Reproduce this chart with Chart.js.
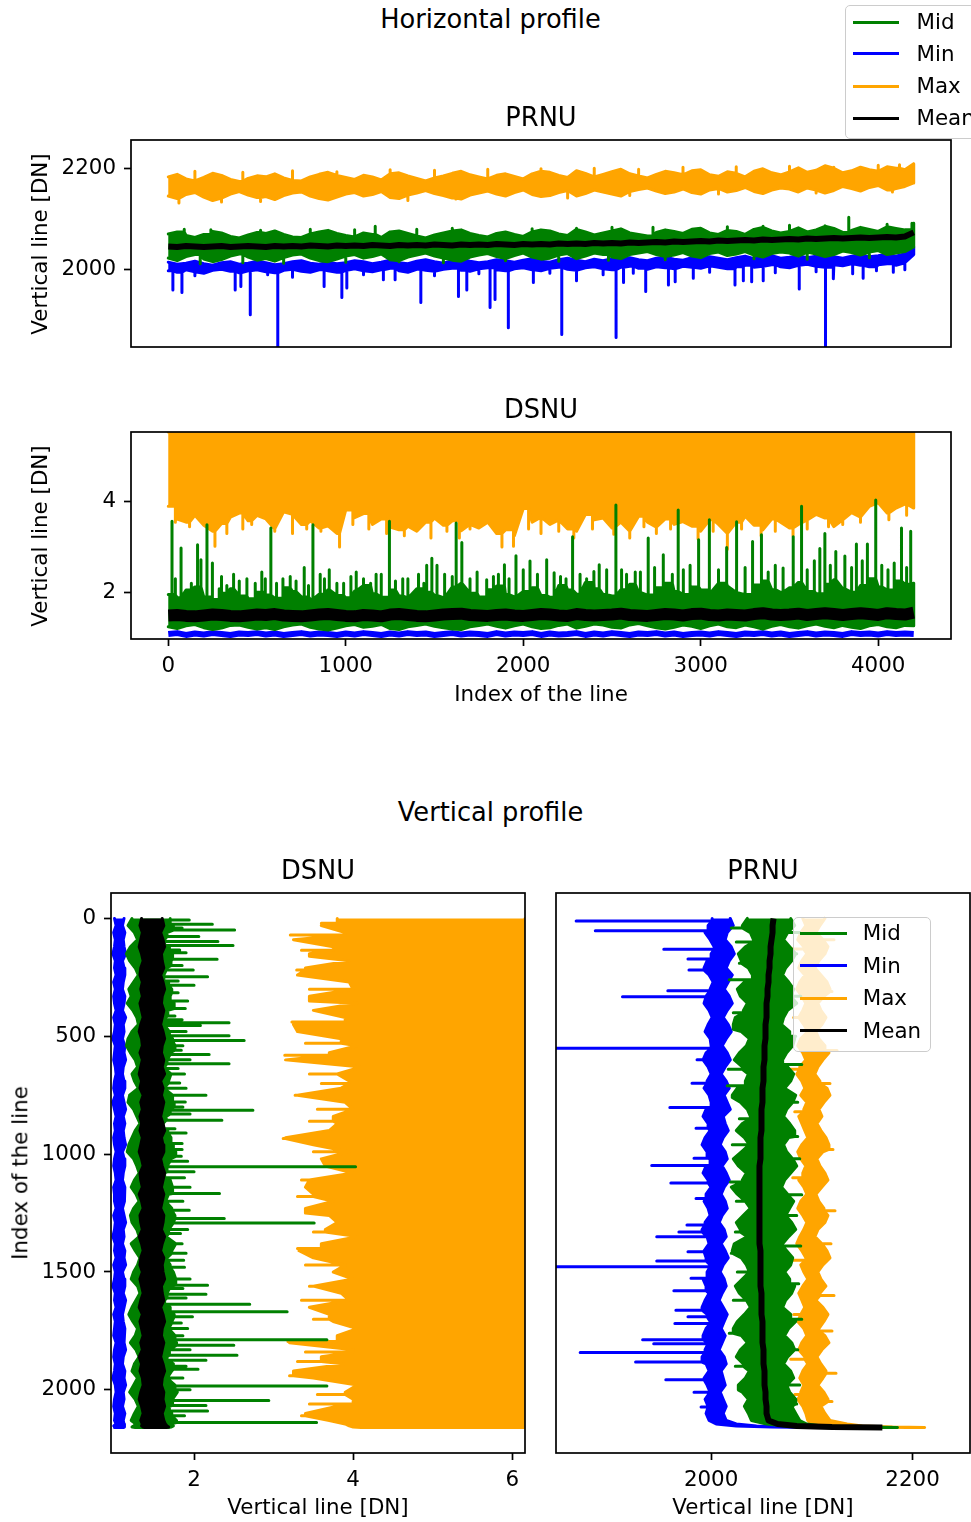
<!DOCTYPE html>
<html>
<head>
<meta charset="utf-8">
<title>Horizontal and vertical profiles</title>
<script src="https://cdn.jsdelivr.net/npm/chart.js@4.4.1/dist/chart.umd.min.js"></script>
<style>
  html, body { margin: 0; padding: 0; background: #fff; }
  body { width: 971px; height: 1522px; position: relative; overflow: hidden;
         font-family: "DejaVu Sans", sans-serif; color: #000; }
  canvas { position: absolute; }
  .t { position: absolute; white-space: nowrap; line-height: 1; transform: translate(-50%, -50%); z-index: 5; }
  .rot { transform: translate(-50%, -50%) rotate(-90deg); }
  .legend { position: absolute; box-sizing: border-box; background: rgba(255,255,255,0.8);
            border: 1.5px solid #cccccc; border-radius: 5px; z-index: 6; }
  .key { position: absolute; height: 3px; margin-top: -1.5px; }
  .lab { position: absolute; font-size: 21.4px; line-height: 1; transform: translateY(-50%); white-space: nowrap; }
</style>
</head>
<body>

<div class="t" style="left:490.5px;top:19.5px;font-size:25.7px">Horizontal profile</div>
<div class="t" style="left:541px;top:117.6px;font-size:25.7px">PRNU</div>
<div class="t" style="left:541px;top:410px;font-size:25.7px">DSNU</div>
<div class="t" style="left:541px;top:694px;font-size:21.4px">Index of the line</div>
<div class="t rot" style="left:39.5px;top:243.5px;font-size:21.4px">Vertical line [DN]</div>
<div class="t rot" style="left:39.5px;top:535.5px;font-size:21.4px">Vertical line [DN]</div>

<div class="t" style="left:490.5px;top:813px;font-size:25.7px">Vertical profile</div>
<div class="t" style="left:318px;top:871px;font-size:25.7px">DSNU</div>
<div class="t" style="left:763px;top:871px;font-size:25.7px">PRNU</div>
<div class="t" style="left:318px;top:1507px;font-size:21.4px">Vertical line [DN]</div>
<div class="t" style="left:763px;top:1507px;font-size:21.4px">Vertical line [DN]</div>
<div class="t rot" style="left:20px;top:1173px;font-size:21.4px">Index of the line</div>

<canvas id="hPrnu" width="971" height="250" style="left:0;top:110px"></canvas>
<canvas id="hDsnu" width="971" height="275" style="left:0;top:412px"></canvas>
<canvas id="vDsnu" width="545" height="630" style="left:0;top:873px"></canvas>
<canvas id="vPrnu" width="431" height="630" style="left:540px;top:873px"></canvas>

<div class="legend" style="left:845px;top:5px;width:140px;height:134px">
  <div class="key" style="left:6.5px;top:16.2px;width:46px;background:#008000"></div><div class="lab" style="left:70.5px;top:16.2px">Mid</div>
  <div class="key" style="left:6.5px;top:47.5px;width:46px;background:#0000ff"></div><div class="lab" style="left:70.5px;top:47.5px">Min</div>
  <div class="key" style="left:6.5px;top:80.2px;width:46px;background:#ffa500"></div><div class="lab" style="left:70.5px;top:80.2px">Max</div>
  <div class="key" style="left:6.5px;top:112.2px;width:46px;background:#000000"></div><div class="lab" style="left:70.5px;top:112.2px">Mean</div>
</div>

<div class="legend" style="left:793px;top:917px;width:138px;height:135px">
  <div class="key" style="left:5.5px;top:15px;width:47px;background:#008000"></div><div class="lab" style="left:68.8px;top:15px">Mid</div>
  <div class="key" style="left:5.5px;top:47.5px;width:47px;background:#0000ff"></div><div class="lab" style="left:68.8px;top:47.5px">Min</div>
  <div class="key" style="left:5.5px;top:80px;width:47px;background:#ffa500"></div><div class="lab" style="left:68.8px;top:80px">Max</div>
  <div class="key" style="left:5.5px;top:112.5px;width:47px;background:#000000"></div><div class="lab" style="left:68.8px;top:112.5px">Mean</div>
</div>

<script>
// ---------- sampled line indices ----------
// horizontal profile: one sample every 50 lines, 0 .. 4200
const hLines = [];
for (let i = 0; i <= 4200; i += 50) hLines.push(i);
// vertical profile: one sample every 30 lines, then the last few lines near the bottom edge
const vLines = [];
for (let i = 0; i <= 2130; i += 30) vLines.push(i);
vLines.push(2145, 2153, 2158, 2160);

// ---------- axis limits and ticks ----------
const hLineMin = -210, hLineMax = 4410;
const hLineTicks = [0, 1000, 2000, 3000, 4000];
const hPrnuYMin = 1847, hPrnuYMax = 2257;
const hPrnuYTicks = [2000, 2200];
const hDsnuYMin = 0.97, hDsnuYMax = 5.54;
const hDsnuYTicks = [2, 4];
const vLineMin = -108, vLineMax = 2268;
const vLineTicks = [0, 500, 1000, 1500, 2000];
const vDsnuXMin = 0.956, vDsnuXMax = 6.16;
const vDsnuXTicks = [2, 4, 6];
const vPrnuXMin = 1846, vPrnuXMax = 2257;
const vPrnuXTicks = [2000, 2200];

// ---------- horizontal profile, PRNU [DN] ----------
// upper / lower envelope of each noisy curve, plus isolated spikes [line, value]
const hPrnuMaxHi = [
  2184, 2189, 2180, 2176, 2183, 2191, 2187, 2179, 2175, 2181,
  2186, 2184, 2190, 2182, 2177, 2176, 2184, 2189, 2193, 2187,
  2183, 2179, 2187, 2184, 2178, 2190, 2192, 2186, 2181, 2176,
  2182, 2186, 2191, 2195, 2188, 2184, 2180, 2187, 2190, 2185,
  2180, 2190, 2195, 2193, 2187, 2183, 2196, 2191, 2184, 2189,
  2194, 2199, 2190, 2186, 2182, 2189, 2195, 2192, 2188, 2196,
  2198, 2188, 2185, 2194, 2191, 2184, 2195, 2200, 2192, 2188,
  2194, 2202, 2193, 2197, 2206, 2201, 2192, 2196, 2203, 2198,
  2195, 2204, 2201, 2198, 2210];
const hPrnuMaxHiSpikes = [
  [150, 2195], [420, 2193], [700, 2196], [950, 2194], [1250, 2198], [1500, 2197], [1800, 2199],
  [2100, 2200], [2400, 2201], [2650, 2199], [2900, 2203], [3200, 2204], [3500, 2205], [3750, 2203],
  [4000, 2207], [4120, 2208]];
const hPrnuMaxLo = [
  2146, 2141, 2149, 2153, 2144, 2137, 2142, 2150, 2155, 2148,
  2143, 2145, 2139, 2147, 2152, 2154, 2146, 2141, 2138, 2144,
  2150, 2153, 2146, 2149, 2155, 2143, 2141, 2148, 2152, 2157,
  2151, 2147, 2142, 2140, 2148, 2152, 2156, 2150, 2146, 2153,
  2158, 2149, 2145, 2147, 2153, 2157, 2146, 2151, 2158, 2154,
  2150, 2146, 2155, 2159, 2162, 2156, 2151, 2154, 2160, 2153,
  2150, 2158, 2161, 2154, 2157, 2163, 2155, 2151, 2158, 2162,
  2160, 2154, 2162, 2158, 2152, 2157, 2165, 2161, 2156, 2163,
  2167, 2158, 2161, 2165, 2172];
const hPrnuMaxLoSpikes = [
  [60, 2132], [300, 2134], [520, 2135], [900, 2138], [1350, 2137], [1620, 2140],
  [2250, 2142], [2600, 2147], [3100, 2150], [3650, 2152], [4080, 2154]];
const hPrnuMidHi = [
  2071, 2075, 2068, 2064, 2070, 2076, 2073, 2066, 2063, 2069,
  2074, 2072, 2077, 2070, 2065, 2064, 2071, 2075, 2078, 2072,
  2068, 2065, 2073, 2070, 2064, 2075, 2077, 2072, 2067, 2063,
  2069, 2073, 2077, 2079, 2072, 2068, 2065, 2072, 2075, 2070,
  2066, 2075, 2079, 2077, 2071, 2068, 2080, 2075, 2069, 2073,
  2077, 2081, 2073, 2070, 2067, 2074, 2079, 2076, 2072, 2080,
  2082, 2073, 2070, 2078, 2076, 2070, 2080, 2084, 2077, 2073,
  2076, 2083, 2075, 2079, 2086, 2082, 2074, 2078, 2084, 2080,
  2076, 2085, 2082, 2079, 2092];
const hPrnuMidHiSpikes = [
  [90, 2080], [240, 2079], [520, 2078], [800, 2080], [1050, 2079], [1166, 2086], [1400, 2080],
  [1600, 2082], [2050, 2081], [2300, 2082], [2500, 2084], [2731, 2084], [3000, 2082], [3150, 2085],
  [3351, 2086], [3500, 2088], [3700, 2087], [3834, 2104], [4050, 2090], [4190, 2092]];
const hPrnuMidLo = [
  2023, 2018, 2026, 2030, 2021, 2016, 2020, 2027, 2031, 2025,
  2019, 2022, 2017, 2024, 2029, 2031, 2023, 2018, 2016, 2021,
  2027, 2030, 2023, 2026, 2031, 2020, 2018, 2025, 2029, 2033,
  2027, 2023, 2019, 2017, 2025, 2029, 2032, 2026, 2022, 2028,
  2033, 2025, 2021, 2023, 2029, 2032, 2022, 2027, 2033, 2030,
  2025, 2022, 2030, 2033, 2036, 2030, 2026, 2029, 2034, 2027,
  2024, 2032, 2035, 2028, 2031, 2036, 2029, 2025, 2032, 2035,
  2033, 2027, 2035, 2031, 2026, 2030, 2037, 2034, 2029, 2035,
  2038, 2030, 2033, 2036, 2045];
const hPrnuMidLoSpikes = [
  [180, 2012], [420, 2014], [650, 2013], [1000, 2015], [1300, 2016], [1550, 2014], [1900, 2018],
  [2200, 2017], [2480, 2019], [2800, 2020], [3300, 2022], [3600, 2021], [3950, 2024]];
const hPrnuMinHi = [
  2015, 2011, 2013, 2017, 2012, 2009, 2014, 2016, 2011, 2013,
  2017, 2014, 2010, 2012, 2016, 2018, 2013, 2011, 2015, 2012,
  2014, 2018, 2016, 2012, 2015, 2019, 2014, 2012, 2017, 2020,
  2016, 2013, 2018, 2021, 2017, 2014, 2016, 2020, 2018, 2015,
  2019, 2022, 2017, 2015, 2020, 2023, 2019, 2016, 2021, 2018,
  2022, 2019, 2024, 2020, 2018, 2023, 2025, 2021, 2019, 2024,
  2021, 2026, 2023, 2020, 2024, 2027, 2022, 2025, 2028, 2023,
  2025, 2028, 2024, 2027, 2030, 2026, 2023, 2027, 2029, 2026,
  2028, 2031, 2027, 2032, 2045];
const hPrnuMinLo = [
  1998, 1995, 2000, 1996, 1993, 1999, 2001, 1997, 1994, 1998,
  2000, 1996, 1994, 1999, 2001, 1997, 1995, 2000, 1998, 1995,
  1999, 2002, 1998, 1996, 2000, 2003, 1998, 1995, 2001, 1999,
  1997, 2001, 2003, 1999, 1997, 2002, 2004, 2000, 1998, 2002,
  2004, 2000, 1998, 2003, 2005, 2001, 1999, 2004, 2006, 2002,
  2000, 2005, 2007, 2003, 2001, 2006, 2004, 2002, 2007, 2005,
  2003, 2008, 2005, 2002, 2006, 2009, 2005, 2007, 2010, 2006,
  2004, 2009, 2011, 2007, 2005, 2010, 2008, 2012, 2009, 2006,
  2010, 2012, 2009, 2014, 2030];
const hPrnuMinSpikes = [
  [26, 1960], [77, 1955], [150, 1988], [377, 1960], [409, 1967], [462, 1911], [560, 1990],
  [617, 1835], [700, 1985], [878, 1967], [978, 1945], [1006, 1964], [1100, 1990], [1212, 1980],
  [1278, 1980], [1423, 1935], [1500, 1988], [1635, 1947], [1682, 1960], [1750, 1992], [1813, 1925],
  [1841, 1941], [1916, 1885], [2057, 1975], [2150, 1993], [2217, 1872], [2300, 1978], [2450, 1990],
  [2523, 1866], [2565, 1975], [2620, 1993], [2690, 1957], [2818, 1970], [2856, 1976], [2958, 1983],
  [3050, 1995], [3193, 1970], [3240, 1978], [3287, 1976], [3352, 1978], [3420, 1994], [3555, 1962],
  [3650, 1996], [3703, 1835], [3747, 1982], [3856, 1992], [3915, 1983], [3990, 1998], [4085, 1995],
  [4150, 2000]];
const hPrnuMean = [
  2046, 2045, 2047, 2046, 2045, 2046, 2047, 2045, 2046, 2047,
  2046, 2045, 2047, 2046, 2047, 2046, 2048, 2047, 2046, 2048,
  2047, 2048, 2047, 2049, 2048, 2047, 2049, 2048, 2049, 2048,
  2050, 2049, 2048, 2050, 2049, 2050, 2049, 2051, 2050, 2049,
  2051, 2050, 2051, 2050, 2052, 2051, 2052, 2051, 2053, 2052,
  2053, 2052, 2054, 2053, 2054, 2055, 2054, 2056, 2055, 2056,
  2057, 2056, 2058, 2057, 2058, 2059, 2058, 2060, 2059, 2060,
  2061, 2060, 2062, 2061, 2062, 2063, 2062, 2063, 2064, 2063,
  2064, 2065, 2064, 2066, 2074];

// ---------- horizontal profile, DSNU [DN] ----------
const hDsnuMaxLo = [
  3.9, 3.62, 3.55, 3.7, 3.48, 3.35, 3.52, 3.66, 3.75, 3.58,
  3.7, 3.62, 3.4, 3.78, 3.72, 3.5, 3.58, 3.42, 3.47, 3.3,
  3.82, 3.65, 3.74, 3.5, 3.62, 3.44, 3.38, 3.46, 3.35, 3.55,
  3.64, 3.48, 3.58, 3.36, 3.5, 3.42, 3.55, 3.3, 3.38, 3.25,
  3.85, 3.55, 3.66, 3.5, 3.6, 3.4, 3.35, 3.72, 3.6, 3.64,
  3.42, 3.55, 3.35, 3.68, 3.55, 3.44, 3.62, 3.5, 3.56, 3.46,
  3.35, 3.6, 3.5, 3.3, 3.55, 3.68, 3.48, 3.38, 3.62, 3.55,
  3.42, 3.5, 3.6, 3.72, 3.64, 3.45, 3.6, 3.76, 3.66, 3.9,
  3.98, 3.75, 3.86, 3.95, 3.86];
const hDsnuMaxSpikes = [
  [40, 3.55], [120, 3.45], [263, 3.02], [330, 3.3], [420, 3.4], [470, 3.5], [600, 3.35],
  [700, 3.3], [780, 3.4], [860, 3.35], [965, 3.0], [1040, 3.5], [1130, 3.4], [1230, 3.3],
  [1330, 3.25], [1480, 3.2], [1570, 3.35], [1640, 3.2], [1700, 3.4], [1880, 3.0], [1945, 3.02],
  [2030, 3.4], [2100, 3.3], [2200, 3.35], [2285, 3.2], [2390, 3.4], [2510, 3.28], [2600, 3.2],
  [2680, 3.45], [2750, 3.3], [2830, 3.4], [2985, 3.18], [3070, 3.35], [3150, 2.95], [3230, 3.4],
  [3340, 3.25], [3420, 3.35], [3520, 3.25], [3600, 3.4], [3720, 3.45], [3800, 3.5], [3900, 3.55],
  [4060, 3.6], [4160, 3.7]];
const hDsnuMidHi = [
  1.95, 1.88, 2.05, 2.12, 1.9, 1.84, 1.98, 2.08, 1.92, 1.86,
  2.0, 1.94, 1.87, 2.1, 2.02, 1.9, 1.85, 1.96, 2.06, 1.93,
  1.88, 2.03, 2.15, 1.97, 1.89, 2.05, 1.92, 1.87, 2.08, 2.0,
  1.93, 1.88, 2.12, 2.2, 1.98, 1.9, 2.06, 2.14, 1.95, 1.9,
  2.02, 2.1, 1.93, 1.89, 2.15, 2.05, 1.96, 2.22, 2.08, 1.95,
  1.92, 2.06, 2.18, 2.0, 1.94, 2.1, 2.2, 2.02, 1.95, 2.12,
  2.05, 1.96, 2.2, 2.14, 2.0, 1.95, 2.16, 2.25, 2.06, 2.0,
  2.1, 2.22, 2.02, 1.97, 2.18, 2.28, 2.08, 2.0, 2.15, 2.3,
  2.12, 2.05, 2.25, 2.18, 2.2];
const hDsnuMidLo = [
  1.24, 1.2, 1.26, 1.29, 1.22, 1.18, 1.21, 1.27, 1.28, 1.23,
  1.19, 1.22, 1.18, 1.24, 1.28, 1.3, 1.23, 1.19, 1.17, 1.21,
  1.26, 1.29, 1.23, 1.25, 1.29, 1.2, 1.18, 1.24, 1.27, 1.3,
  1.25, 1.22, 1.19, 1.18, 1.24, 1.27, 1.3, 1.25, 1.21, 1.26,
  1.3, 1.24, 1.2, 1.22, 1.27, 1.3, 1.21, 1.25, 1.3, 1.28,
  1.23, 1.21, 1.28, 1.31, 1.26, 1.22, 1.19, 1.23, 1.28, 1.25,
  1.2, 1.26, 1.3, 1.24, 1.22, 1.28, 1.24, 1.19, 1.25, 1.29,
  1.24, 1.21, 1.26, 1.3, 1.25, 1.22, 1.27, 1.23, 1.2, 1.26,
  1.29, 1.24, 1.22, 1.27, 1.26];
const hDsnuMidSpikes = [
  [21, 3.57], [40, 2.3], [72, 2.98], [100, 2.05], [130, 2.2], [165, 3.05], [184, 2.72],
  [218, 3.49], [248, 2.65], [287, 2.08], [300, 2.35], [330, 2.15], [368, 2.4], [400, 2.25],
  [443, 2.3], [490, 2.2], [527, 2.45], [545, 2.3], [578, 3.42], [610, 2.2], [646, 2.3],
  [687, 2.35], [720, 2.25], [766, 2.55], [790, 2.15], [815, 3.49], [856, 2.4], [880, 2.3],
  [907, 2.5], [950, 2.2], [988, 2.2], [1029, 2.35], [1059, 2.45], [1100, 2.3], [1140, 2.2],
  [1171, 2.4], [1200, 2.4], [1246, 3.57], [1280, 2.25], [1321, 2.3], [1350, 2.3], [1410, 2.4],
  [1440, 2.2], [1456, 2.6], [1485, 2.75], [1514, 2.6], [1557, 2.4], [1600, 2.35], [1622, 3.53],
  [1654, 3.1], [1700, 2.3], [1740, 2.45], [1794, 2.28], [1832, 2.35], [1860, 2.4], [1894, 2.61],
  [1920, 2.3], [1959, 2.81], [2000, 2.5], [2038, 2.69], [2080, 2.4], [2132, 2.72], [2174, 2.43],
  [2210, 2.35], [2241, 2.3], [2278, 3.23], [2320, 2.4], [2357, 2.3], [2398, 2.46], [2428, 2.61],
  [2470, 2.5], [2522, 3.93], [2554, 2.5], [2582, 2.4], [2631, 2.45], [2660, 2.45], [2704, 3.2],
  [2740, 2.55], [2789, 2.83], [2840, 2.4], [2873, 3.82], [2902, 2.5], [2940, 2.6], [2988, 3.16],
  [3048, 3.6], [3100, 2.5], [3146, 2.99], [3202, 3.56], [3250, 2.55], [3292, 3.12], [3342, 3.27],
  [3380, 2.45], [3420, 2.6], [3464, 2.54], [3521, 3.23], [3568, 3.9], [3600, 2.5], [3640, 2.7],
  [3671, 2.97], [3699, 3.3], [3730, 2.6], [3761, 2.9], [3812, 2.8], [3850, 2.55], [3877, 3.07],
  [3910, 2.7], [3939, 3.07], [3986, 4.04], [4020, 2.6], [4055, 2.5], [4090, 2.65], [4131, 3.42],
  [4160, 2.55], [4183, 3.35]];
const hDsnuMin = [
  1.08, 1.1, 1.06, 1.09, 1.07, 1.1, 1.08, 1.06, 1.09, 1.08,
  1.1, 1.07, 1.09, 1.06, 1.08, 1.1, 1.07, 1.09, 1.08, 1.06,
  1.09, 1.07, 1.1, 1.08, 1.06, 1.09, 1.07, 1.1, 1.08, 1.09,
  1.06, 1.08, 1.1, 1.07, 1.09, 1.08, 1.06, 1.1, 1.07, 1.09,
  1.08, 1.1, 1.06, 1.09, 1.07, 1.08, 1.1, 1.06, 1.09, 1.07,
  1.1, 1.08, 1.06, 1.09, 1.08, 1.1, 1.07, 1.09, 1.06, 1.08,
  1.09, 1.07, 1.1, 1.08, 1.06, 1.09, 1.08, 1.1, 1.07, 1.09,
  1.06, 1.08, 1.1, 1.07, 1.09, 1.08, 1.06, 1.1, 1.08, 1.09,
  1.07, 1.1, 1.08, 1.09, 1.08];
const hDsnuMean = [
  1.49, 1.5, 1.48, 1.47, 1.49, 1.51, 1.5, 1.48, 1.47, 1.49,
  1.51, 1.5, 1.52, 1.49, 1.48, 1.47, 1.49, 1.51, 1.52, 1.5,
  1.48, 1.47, 1.5, 1.49, 1.47, 1.51, 1.52, 1.5, 1.48, 1.47,
  1.49, 1.51, 1.52, 1.53, 1.5, 1.49, 1.48, 1.5, 1.51, 1.49,
  1.48, 1.5, 1.52, 1.51, 1.49, 1.48, 1.52, 1.5, 1.49, 1.5,
  1.51, 1.53, 1.5, 1.49, 1.48, 1.5, 1.52, 1.51, 1.49, 1.52,
  1.53, 1.5, 1.49, 1.51, 1.5, 1.49, 1.52, 1.54, 1.51, 1.5,
  1.51, 1.53, 1.5, 1.52, 1.54, 1.52, 1.5, 1.52, 1.54, 1.52,
  1.5, 1.54, 1.52, 1.51, 1.55];

// ---------- vertical profile, DSNU [DN] ----------
const vDsnuMaxLo = [
  3.8, 3.6, 3.9, 3.25, 3.75, 3.45, 3.95, 3.4, 3.3, 3.95,
  4.0, 3.45, 4.05, 3.5, 3.9, 3.25, 3.3, 3.85, 4.05, 3.7,
  3.15, 4.1, 3.8, 3.95, 3.85, 3.3, 3.9, 4.0, 3.75, 3.8,
  3.7, 3.15, 3.5, 3.95, 3.6, 3.65, 4.0, 3.45, 3.4, 3.5,
  3.75, 3.4, 3.7, 3.8, 3.65, 4.05, 3.6, 3.32, 3.5, 3.9,
  3.75, 4.0, 3.5, 3.85, 3.95, 3.45, 3.7, 3.75, 4.05, 3.8,
  3.2, 4.0, 3.6, 3.9, 3.25, 3.5, 4.05, 3.9, 4.0, 3.8,
  3.4, 3.7, 3.9, 3.95, 4.0, 4.1];
const vDsnuMaxSpikes = [
  [20, 3.6], [70, 3.21], [135, 3.35], [160, 3.55], [219, 3.29], [300, 3.45], [350, 3.5],
  [439, 3.23], [480, 3.6], [530, 3.4], [580, 3.14], [660, 3.45], [700, 3.6], [750, 3.27],
  [810, 3.55], [860, 3.45], [934, 3.12], [990, 3.5], [1110, 3.35], [1180, 3.3], [1250, 3.45],
  [1330, 3.5], [1400, 3.3], [1470, 3.4], [1560, 3.45], [1620, 3.35], [1700, 3.5], [1795, 3.18],
  [1840, 3.4], [1880, 3.3], [1940, 3.2], [2020, 3.55], [2060, 3.45], [2110, 3.35]];
const vDsnuMidHi = [
  1.7, 1.74, 1.66, 1.63, 1.69, 1.73, 1.71, 1.65, 1.62, 1.68,
  1.72, 1.7, 1.75, 1.67, 1.64, 1.63, 1.69, 1.73, 1.76, 1.7,
  1.66, 1.63, 1.71, 1.68, 1.62, 1.73, 1.75, 1.7, 1.65, 1.61,
  1.67, 1.71, 1.74, 1.77, 1.7, 1.66, 1.63, 1.7, 1.73, 1.68,
  1.64, 1.72, 1.76, 1.74, 1.68, 1.65, 1.77, 1.72, 1.66, 1.7,
  1.74, 1.77, 1.69, 1.66, 1.63, 1.7, 1.75, 1.72, 1.68, 1.76,
  1.78, 1.69, 1.66, 1.74, 1.72, 1.66, 1.76, 1.79, 1.73, 1.69,
  1.72, 1.78, 1.7, 1.74, 1.71, 1.68];
const vDsnuMidLo = [
  1.22, 1.17, 1.25, 1.29, 1.2, 1.15, 1.19, 1.26, 1.3, 1.24,
  1.18, 1.21, 1.16, 1.23, 1.28, 1.3, 1.22, 1.17, 1.15, 1.2,
  1.26, 1.29, 1.22, 1.25, 1.3, 1.19, 1.17, 1.24, 1.28, 1.32,
  1.26, 1.22, 1.18, 1.16, 1.24, 1.28, 1.31, 1.25, 1.21, 1.27,
  1.31, 1.24, 1.2, 1.22, 1.28, 1.31, 1.21, 1.26, 1.32, 1.29,
  1.24, 1.21, 1.29, 1.32, 1.27, 1.22, 1.18, 1.23, 1.29, 1.26,
  1.2, 1.27, 1.31, 1.25, 1.22, 1.29, 1.24, 1.19, 1.26, 1.3,
  1.25, 1.21, 1.27, 1.24, 1.22, 1.26];
const vDsnuMidSpikes = [
  [7, 1.94], [25, 2.23], [40, 1.85], [49, 2.51], [77, 2.06], [98, 2.3], [115, 2.49], [134, 1.82],
  [145, 1.9], [173, 2.29], [200, 1.85], [219, 1.99], [247, 2.17], [265, 1.8], [283, 2.0], [315, 1.8],
  [350, 1.92], [382, 1.89], [414, 1.76], [430, 1.85], [443, 2.44], [454, 2.08], [480, 1.9],
  [498, 2.44], [518, 2.63], [540, 1.86], [559, 1.84], [577, 2.19], [600, 1.95], [616, 2.44],
  [637, 1.8], [660, 1.88], [698, 1.82], [720, 1.9], [750, 2.15], [779, 1.89], [800, 1.86],
  [814, 2.74], [830, 1.95], [856, 2.35], [892, 1.76], [910, 1.9], [955, 1.85], [980, 1.85],
  [1009, 1.84], [1030, 1.92], [1054, 4.03], [1075, 2.0], [1100, 1.88], [1140, 1.95], [1167, 2.32],
  [1200, 1.86], [1238, 1.94], [1273, 2.38], [1292, 3.51], [1320, 1.92], [1337, 1.83], [1380, 1.85],
  [1420, 1.9], [1450, 1.87], [1480, 1.88], [1530, 1.95], [1556, 2.17], [1570, 1.86], [1594, 2.15],
  [1610, 1.9], [1637, 2.7], [1669, 3.17], [1690, 1.98], [1716, 1.84], [1740, 1.92], [1770, 1.86],
  [1787, 3.67], [1811, 2.5], [1830, 1.95], [1853, 2.54], [1875, 2.15], [1900, 1.9], [1913, 2.05],
  [1950, 1.86], [1984, 3.67], [2000, 1.95], [2045, 2.94], [2066, 2.15], [2090, 2.17], [2110, 1.88],
  [2139, 3.54]];
const vDsnuMinHi = [
  1.12, 1.1, 1.13, 1.11, 1.12, 1.14, 1.1, 1.12, 1.13, 1.11,
  1.1, 1.13, 1.12, 1.1, 1.14, 1.11, 1.12, 1.1, 1.13, 1.12,
  1.14, 1.11, 1.1, 1.12, 1.13, 1.1, 1.12, 1.14, 1.11, 1.13,
  1.11, 1.12, 1.14, 1.1, 1.12, 1.13, 1.11, 1.1, 1.13, 1.12,
  1.13, 1.1, 1.12, 1.14, 1.11, 1.12, 1.1, 1.13, 1.12, 1.14,
  1.1, 1.12, 1.13, 1.11, 1.14, 1.12, 1.1, 1.11, 1.13, 1.12,
  1.12, 1.14, 1.11, 1.1, 1.13, 1.12, 1.14, 1.11, 1.12, 1.1,
  1.13, 1.11, 1.12, 1.13, 1.12, 1.11];
const vDsnuMinLo = [
  1.0, 1.02, 0.99, 1.01, 1.0, 0.98, 1.01, 1.0, 1.02, 0.99,
  1.01, 0.99, 1.0, 1.02, 0.99, 1.01, 1.0, 0.98, 1.01, 1.0,
  0.99, 1.01, 1.02, 1.0, 0.99, 1.01, 0.98, 1.0, 1.02, 1.0,
  1.01, 0.99, 1.0, 1.02, 1.0, 0.99, 1.01, 1.02, 0.99, 1.0,
  1.0, 1.02, 0.99, 1.01, 1.0, 0.98, 1.01, 1.0, 1.02, 0.99,
  1.01, 1.0, 0.98, 1.01, 1.0, 1.02, 0.99, 1.01, 1.0, 0.99,
  1.02, 1.0, 0.99, 1.01, 1.0, 0.98, 1.01, 1.02, 1.0, 0.99,
  1.01, 1.0, 1.02, 0.99, 1.01, 1.0];
const vDsnuMeanHi = [
  1.6, 1.62, 1.58, 1.61, 1.63, 1.59, 1.6, 1.62, 1.58, 1.61,
  1.63, 1.6, 1.59, 1.62, 1.6, 1.58, 1.61, 1.63, 1.6, 1.59,
  1.62, 1.6, 1.63, 1.58, 1.61, 1.59, 1.62, 1.6, 1.58, 1.61,
  1.63, 1.59, 1.61, 1.62, 1.58, 1.6, 1.63, 1.61, 1.59, 1.62,
  1.6, 1.58, 1.62, 1.61, 1.59, 1.63, 1.6, 1.58, 1.62, 1.6,
  1.61, 1.63, 1.59, 1.6, 1.62, 1.58, 1.61, 1.63, 1.6, 1.59,
  1.62, 1.6, 1.58, 1.61, 1.63, 1.6, 1.59, 1.62, 1.61, 1.63,
  1.6, 1.62, 1.64, 1.66, 1.68, 1.65];
const vDsnuMeanLo = [
  1.34, 1.32, 1.35, 1.33, 1.31, 1.34, 1.36, 1.33, 1.32, 1.35,
  1.33, 1.35, 1.32, 1.34, 1.36, 1.33, 1.31, 1.34, 1.35, 1.32,
  1.35, 1.33, 1.31, 1.34, 1.32, 1.36, 1.33, 1.35, 1.32, 1.34,
  1.32, 1.35, 1.33, 1.31, 1.34, 1.36, 1.32, 1.33, 1.35, 1.31,
  1.34, 1.36, 1.32, 1.33, 1.35, 1.31, 1.34, 1.36, 1.33, 1.32,
  1.35, 1.32, 1.34, 1.36, 1.33, 1.31, 1.35, 1.32, 1.34, 1.36,
  1.33, 1.35, 1.31, 1.34, 1.32, 1.35, 1.36, 1.33, 1.31, 1.34,
  1.36, 1.33, 1.35, 1.34, 1.36, 1.38];

// ---------- vertical profile, PRNU [DN] ----------
const vPrnuMaxHi = [
  2113, 2108, 2104, 2111, 2116, 2113, 2107, 2103, 2109, 2115,
  2118, 2112, 2106, 2109, 2114, 2110, 2104, 2107, 2113, 2117,
  2111, 2106, 2103, 2108, 2115, 2118, 2112, 2107, 2110, 2105,
  2109, 2114, 2117, 2111, 2105, 2108, 2113, 2116, 2110, 2104,
  2107, 2112, 2116, 2113, 2106, 2103, 2110, 2115, 2118, 2111,
  2106, 2109, 2114, 2108, 2104, 2111, 2116, 2112, 2107, 2113,
  2117, 2110, 2105, 2109, 2114, 2111, 2106, 2112, 2116, 2109,
  2113, 2118, 2135, 2150, 2180, 2212];
const vPrnuMaxHiSpikes = [
  [90, 2122], [310, 2120], [560, 2125], [700, 2118], [980, 2121], [1240, 2123], [1380, 2119],
  [1600, 2122], [1750, 2120], [1930, 2124], [2050, 2120]];
const vPrnuMaxLo = [
  2091, 2094, 2089, 2086, 2092, 2095, 2090, 2087, 2093, 2088,
  2085, 2090, 2094, 2091, 2087, 2092, 2096, 2089, 2086, 2091,
  2094, 2088, 2085, 2090, 2093, 2089, 2095, 2092, 2087, 2090,
  2093, 2096, 2090, 2086, 2089, 2094, 2091, 2087, 2092, 2095,
  2089, 2086, 2091, 2095, 2092, 2088, 2085, 2090, 2094, 2089,
  2092, 2096, 2091, 2087, 2090, 2093, 2089, 2086, 2092, 2095,
  2090, 2087, 2093, 2096, 2091, 2088, 2092, 2089, 2086, 2091,
  2094, 2096, 2100, 2115, 2150, 2195];
const vPrnuMaxLoSpikes = [
  [130, 2080], [420, 2082], [640, 2079], [820, 2083], [1100, 2081], [1450, 2080], [1680, 2082],
  [1870, 2079], [2020, 2083]];
const vPrnuMidHi = [
  2079, 2083, 2076, 2072, 2078, 2084, 2080, 2074, 2071, 2077,
  2082, 2079, 2085, 2076, 2072, 2070, 2078, 2083, 2081, 2075,
  2071, 2076, 2082, 2079, 2073, 2084, 2081, 2075, 2072, 2078,
  2083, 2077, 2072, 2075, 2081, 2085, 2079, 2073, 2070, 2076,
  2082, 2078, 2074, 2080, 2084, 2077, 2071, 2075, 2081, 2079,
  2073, 2078, 2083, 2080, 2074, 2071, 2079, 2084, 2077, 2073,
  2080, 2083, 2076, 2072, 2079, 2082, 2075, 2078, 2084, 2080,
  2084, 2088, 2095, 2110, 2150, 2185];
const vPrnuMidSpikesHi = [
  [60, 2088], [150, 2085], [330, 2089], [500, 2084], [620, 2090], [780, 2086], [925, 2086],
  [1020, 2088], [1172, 2090], [1260, 2085], [1390, 2089], [1550, 2087], [1700, 2090], [1830, 2086],
  [1980, 2088], [2060, 2085]];
const vPrnuMidLo = [
  2036, 2031, 2039, 2042, 2034, 2027, 2030, 2037, 2041, 2033,
  2026, 2029, 2036, 2032, 2024, 2022, 2030, 2038, 2035, 2028,
  2023, 2031, 2037, 2034, 2026, 2021, 2029, 2036, 2039, 2031,
  2025, 2033, 2038, 2030, 2022, 2027, 2035, 2031, 2020, 2026,
  2034, 2039, 2032, 2025, 2029, 2036, 2023, 2021, 2030, 2035,
  2038, 2031, 2024, 2028, 2035, 2039, 2033, 2026, 2022, 2030,
  2036, 2029, 2025, 2032, 2038, 2034, 2027, 2031, 2037, 2033,
  2037, 2040, 2055, 2075, 2115, 2170];
const vPrnuMidSpikesLo = [
  [40, 2020], [100, 2025], [190, 2028], [260, 2018], [400, 2022], [470, 2026], [640, 2017],
  [710, 2016], [760, 2023], [850, 2028], [960, 2021], [1118, 2019], [1200, 2025], [1330, 2024],
  [1420, 2020], [1500, 2026], [1620, 2022], [1760, 2018], [1900, 2024], [2000, 2027]];
const vPrnuMinHi = [
  2019, 2022, 2016, 2014, 2020, 2023, 2018, 2015, 2021, 2017,
  2013, 2018, 2021, 2016, 2012, 2017, 2020, 2015, 2011, 2016,
  2019, 2014, 2010, 2015, 2018, 2013, 2016, 2019, 2012, 2014,
  2017, 2012, 2009, 2014, 2016, 2011, 2015, 2018, 2013, 2010,
  2014, 2016, 2011, 2008, 2013, 2015, 2010, 2014, 2017, 2012,
  2009, 2013, 2015, 2011, 2008, 2012, 2016, 2013, 2010, 2014,
  2011, 2008, 2013, 2015, 2010, 2012, 2014, 2009, 2012, 2015,
  2012, 2015, 2025, 2045, 2080, 2115];
const vPrnuMinLo = [
  2001, 1997, 1994, 1999, 2003, 2000, 1996, 1993, 1998, 2002,
  1999, 1995, 1993, 1998, 2001, 1997, 1994, 1999, 2000, 1995,
  1992, 1997, 2000, 1996, 1993, 1998, 2000, 1995, 1992, 1997,
  1999, 1994, 1991, 1996, 1999, 1995, 1992, 1997, 2000, 1995,
  1993, 1997, 1999, 1994, 1991, 1996, 1998, 1993, 1995, 1999,
  1996, 1992, 1995, 1998, 1994, 1991, 1996, 1999, 1995, 1992,
  1997, 1994, 1991, 1995, 1998, 1993, 1996, 1999, 1994, 1997,
  1995, 1998, 2005, 2025, 2060, 2100];
const vPrnuMinSpikes = [
  [11, 1866], [52, 1885], [131, 1953], [172, 1977], [219, 1978], [307, 1957], [332, 1912],
  [551, 1830], [600, 1986], [699, 1981], [802, 1959], [890, 1985], [1017, 1983], [1048, 1941],
  [1122, 1960], [1188, 1985], [1301, 1976], [1330, 1968], [1351, 1946], [1414, 1977], [1453, 1946],
  [1478, 1830], [1527, 1980], [1580, 1963], [1662, 1965], [1690, 1977], [1719, 1964], [1787, 1932],
  [1804, 1943], [1842, 1870], [1882, 1925], [1957, 1955], [2010, 1983], [2073, 1990]];
const vPrnuMean = [
  2062, 2061, 2061, 2060, 2059, 2059, 2058, 2058, 2057, 2057,
  2056, 2056, 2055, 2055, 2055, 2054, 2054, 2054, 2053, 2053,
  2053, 2052, 2052, 2052, 2051, 2051, 2051, 2050, 2050, 2050,
  2050, 2049, 2049, 2049, 2049, 2048, 2048, 2048, 2048, 2048,
  2048, 2048, 2048, 2048, 2048, 2048, 2048, 2049, 2049, 2049,
  2049, 2049, 2049, 2050, 2050, 2050, 2050, 2051, 2051, 2051,
  2051, 2052, 2052, 2052, 2053, 2053, 2053, 2054, 2054, 2055,
  2055, 2057, 2066, 2085, 2120, 2170];

// ---------- drawing helpers ----------
const COLOR = { mid: '#008000', min: '#0000ff', max: '#ffa500', mean: '#000000' };
// stacking: Mean on top, then Mid, Min, Max at the bottom
const ORDER = { mean: 0, mid: 1, min: 2, max: 3 };
Chart.defaults.font.family = '"DejaVu Sans", sans-serif';

// value of the sampled envelope at the sample just before a given line
function baseAt(lines, vals, line) {
  let k = 0;
  while (k < lines.length - 1 && lines[k + 1] <= line) k++;
  return vals[k];
}

// one envelope edge, with each spike inserted as an out-and-back excursion
function edge(lines, vals, spikes) {
  const pts = lines.map((l, i) => ({ l, v: vals[i], o: 0 }));
  (spikes || []).forEach(([l, v]) => {
    const b = baseAt(lines, vals, l);
    pts.push({ l, v: b, o: 1 }, { l, v, o: 2 }, { l, v: b, o: 3 });
  });
  pts.sort((a, b) => (a.l - b.l) || (a.o - b.o));
  return pts;
}

// closed outline: upper edge forward, lower edge back
function outline(upper, lower, vertical) {
  return upper.concat(lower.slice().reverse())
    .map(p => vertical ? { x: p.v, y: p.l } : { x: p.l, y: p.v });
}

function series(lines, vals, vertical) {
  return lines.map((l, i) => vertical ? { x: vals[i], y: l } : { x: l, y: vals[i] });
}

function bandSet(label, key, data) {
  return { label, data, showLine: true, fill: 'shape', borderColor: COLOR[key], backgroundColor: COLOR[key],
           borderWidth: 3, borderJoinStyle: 'round', borderCapStyle: 'round', pointRadius: 0,
           order: ORDER[key], clip: 0 };
}
function lineSet(label, key, data, width) {
  return { label, data, showLine: true, fill: false, borderColor: COLOR[key], backgroundColor: COLOR[key],
           borderWidth: width, borderJoinStyle: 'round', borderCapStyle: 'butt', pointRadius: 0,
           order: ORDER[key], clip: 0 };
}

function scale(min, max, ticks, size, reverse) {
  const show = ticks.length > 0;
  return {
    type: 'linear', min, max, reverse: !!reverse,
    afterBuildTicks: s => { s.ticks = ticks.map(v => ({ value: v })); },
    afterFit: s => {
      if (s.isHorizontal()) s.height = size; else s.width = size;
      s.paddingTop = 0; s.paddingBottom = 0; s.paddingLeft = 0; s.paddingRight = 0;
    },
    grid: { display: show, drawOnChartArea: false, drawTicks: show, tickLength: 7, tickWidth: 1.7, tickColor: '#000' },
    border: { display: false },
    ticks: { display: show, color: '#000', font: { size: 21.4 }, padding: 8, maxRotation: 0, autoSkip: false,
             callback: v => String(v) }
  };
}

// axes frame on all four sides
const frame = {
  id: 'frame',
  afterDraw(chart) {
    const { ctx, chartArea: a } = chart;
    ctx.save();
    ctx.strokeStyle = '#000';
    ctx.lineWidth = 1.7;
    ctx.strokeRect(a.left, a.top, a.right - a.left, a.bottom - a.top);
    ctx.restore();
  }
};

function draw(id, datasets, xScale, yScale, padding) {
  return new Chart(document.getElementById(id), {
    type: 'scatter',
    data: { datasets },
    options: {
      responsive: false, animation: false, devicePixelRatio: 1, events: [],
      layout: { padding },
      plugins: { legend: { display: false }, tooltip: { enabled: false } },
      scales: { x: xScale, y: yScale }
    },
    plugins: [frame]
  });
}

const hEnds = [hLines[0], hLines[hLines.length - 1]];
const vEnds = [vLines[0], vLines[vLines.length - 1]];

// Horizontal profile — PRNU
draw('hPrnu', [
  lineSet('Mean', 'mean', series(hLines, hPrnuMean, false), 6),
  bandSet('Mid', 'mid', outline(edge(hLines, hPrnuMidHi, hPrnuMidHiSpikes), edge(hLines, hPrnuMidLo, hPrnuMidLoSpikes), false)),
  bandSet('Min', 'min', outline(edge(hLines, hPrnuMinHi), edge(hLines, hPrnuMinLo, hPrnuMinSpikes), false)),
  bandSet('Max', 'max', outline(edge(hLines, hPrnuMaxHi, hPrnuMaxHiSpikes), edge(hLines, hPrnuMaxLo, hPrnuMaxLoSpikes), false))
], scale(hLineMin, hLineMax, [], 13), scale(hPrnuYMin, hPrnuYMax, hPrnuYTicks, 131),
   { top: 30, right: 20, bottom: 0, left: 0 });

// Horizontal profile — DSNU (Max runs past the top of the axes)
draw('hDsnu', [
  lineSet('Mean', 'mean', series(hLines, hDsnuMean, false), 12),
  bandSet('Mid', 'mid', outline(edge(hLines, hDsnuMidHi, hDsnuMidSpikes), edge(hLines, hDsnuMidLo), false)),
  lineSet('Min', 'min', series(hLines, hDsnuMin, false), 6),
  bandSet('Max', 'max', outline(edge(hEnds, [hDsnuYMax, hDsnuYMax]), edge(hLines, hDsnuMaxLo, hDsnuMaxSpikes), false))
], scale(hLineMin, hLineMax, hLineTicks, 48), scale(hDsnuYMin, hDsnuYMax, hDsnuYTicks, 131),
   { top: 20, right: 20, bottom: 0, left: 0 });

// Vertical profile — DSNU (Max runs past the right of the axes)
draw('vDsnu', [
  bandSet('Mean', 'mean', outline(edge(vLines, vDsnuMeanHi), edge(vLines, vDsnuMeanLo), true)),
  bandSet('Mid', 'mid', outline(edge(vLines, vDsnuMidHi, vDsnuMidSpikes), edge(vLines, vDsnuMidLo), true)),
  bandSet('Min', 'min', outline(edge(vLines, vDsnuMinHi), edge(vLines, vDsnuMinLo), true)),
  bandSet('Max', 'max', outline(edge(vEnds, [vDsnuXMax, vDsnuXMax]), edge(vLines, vDsnuMaxLo, vDsnuMaxSpikes), true))
], scale(vDsnuXMin, vDsnuXMax, vDsnuXTicks, 50), scale(vLineMin, vLineMax, vLineTicks, 111, true),
   { top: 20, right: 20, bottom: 0, left: 0 });

// Vertical profile — PRNU
draw('vPrnu', [
  lineSet('Mean', 'mean', series(vLines, vPrnuMean, true), 6),
  bandSet('Mid', 'mid', outline(edge(vLines, vPrnuMidHi, vPrnuMidSpikesHi), edge(vLines, vPrnuMidLo, vPrnuMidSpikesLo), true)),
  bandSet('Min', 'min', outline(edge(vLines, vPrnuMinHi), edge(vLines, vPrnuMinLo, vPrnuMinSpikes), true)),
  bandSet('Max', 'max', outline(edge(vLines, vPrnuMaxHi, vPrnuMaxHiSpikes), edge(vLines, vPrnuMaxLo, vPrnuMaxLoSpikes), true))
], scale(vPrnuXMin, vPrnuXMax, vPrnuXTicks, 50), scale(vLineMin, vLineMax, [], 16, true),
   { top: 20, right: 1, bottom: 0, left: 0 });
</script>
</body>
</html>
